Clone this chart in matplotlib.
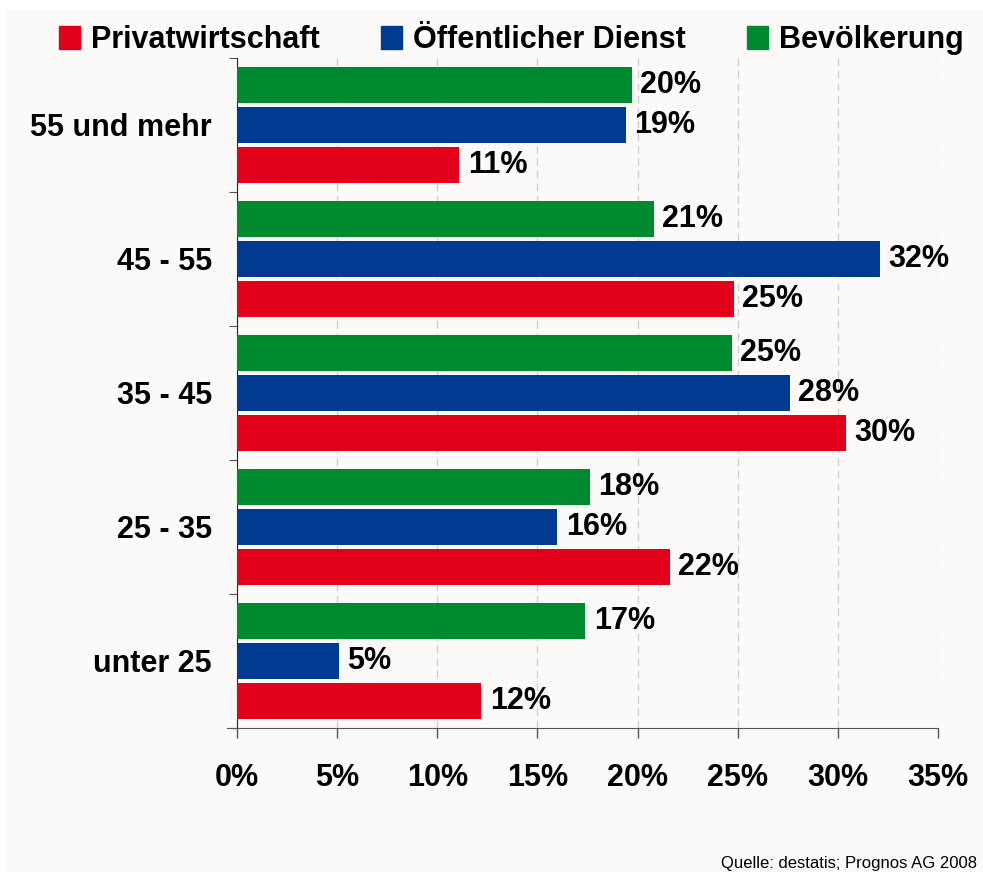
import numpy as np
import matplotlib.pyplot as plt
from matplotlib.patches import Patch, Rectangle

groups = ['unter 25', '25 - 35', '35 - 45', '45 - 55', '55 und mehr']
privat = [12.2, 21.6, 30.4, 24.8, 11.1]
oeffentlich = [5.1, 16.0, 27.6, 32.1, 19.4]
bevoelkerung = [17.4, 17.6, 24.7, 20.8, 19.7]
xticks = [0, 5, 10, 15, 20, 25, 30, 35]

red = '#E3001B'
blue = '#003A91'
green = '#008A2F'
bg = '#FBFAF8'

plt.rcParams['font.family'] = ['Liberation Sans Narrow', 'Liberation Sans', 'DejaVu Sans']
plt.rcParams['font.weight'] = 'bold'

fig = plt.figure(figsize=(9.83, 8.72), dpi=100, facecolor='white')
fig.patches.append(Rectangle((6/983, 0), 1, 1 - 10/872, transform=fig.transFigure,
                             facecolor=bg, edgecolor='none', zorder=-10))
ax = fig.add_axes([237/983, 144/872, 701/983, 670/872])
ax.set_facecolor(bg)
ax.patch.set_alpha(0)

y = np.arange(len(groups))
h = 0.27
b_r = ax.barh(y - 0.3, privat, height=h, color=red, zorder=3)
b_b = ax.barh(y, oeffentlich, height=h, color=blue, zorder=3)
b_g = ax.barh(y + 0.3, bevoelkerung, height=h, color=green, zorder=3)
for bars, vals in [(b_r, privat), (b_b, oeffentlich), (b_g, bevoelkerung)]:
    ax.bar_label(bars, labels=[f"{v:.0f}%" for v in vals], padding=6,
                 fontsize=22, fontweight='bold')

ax.set_xlim(0, 35)
ax.set_ylim(-0.5, 4.5)
ax.set_xticks(xticks)
ax.set_xticklabels([f"{t}%" for t in xticks], fontsize=22, fontweight='bold')
ax.tick_params(axis='x', length=7, width=1, color='#555555', pad=18)
ax.set_yticks(np.arange(-0.5, 5, 1))
ax.set_yticklabels([])
ax.tick_params(axis='y', which='major', length=6, color='#555555')
ax.set_yticks(y, minor=True)
ax.set_yticklabels(groups, minor=True, fontsize=22, fontweight='bold')
ax.tick_params(axis='y', which='minor', length=0, pad=18)
ax.grid(axis='x', color='#CCCCCC', linestyle=(0, (6, 4)), linewidth=0.9, zorder=0)
for s in ['top', 'right']:
    ax.spines[s].set_visible(False)
ax.spines['left'].set_color('#222222')
ax.spines['bottom'].set_color('#555555')
ax.spines['bottom'].set_bounds(-0.5, 35)

handles = [Patch(color=red), Patch(color=blue), Patch(color=green)]
fig.legend(handles, ['Privatwirtschaft', 'Öffentlicher Dienst', 'Bevölkerung'],
           loc='center', bbox_to_anchor=(511/983, 1 - 40/872), ncol=3, frameon=False,
           fontsize=22, handlelength=0.7, handleheight=0.75, handletextpad=0.35,
           columnspacing=2.0, borderaxespad=0)

fig.text(977/983, 1 - 863/872, 'Quelle: destatis; Prognos AG 2008', ha='right', va='center',
         fontsize=12, fontweight='normal')

fig.savefig('out.png', dpi=100, facecolor=fig.get_facecolor())
